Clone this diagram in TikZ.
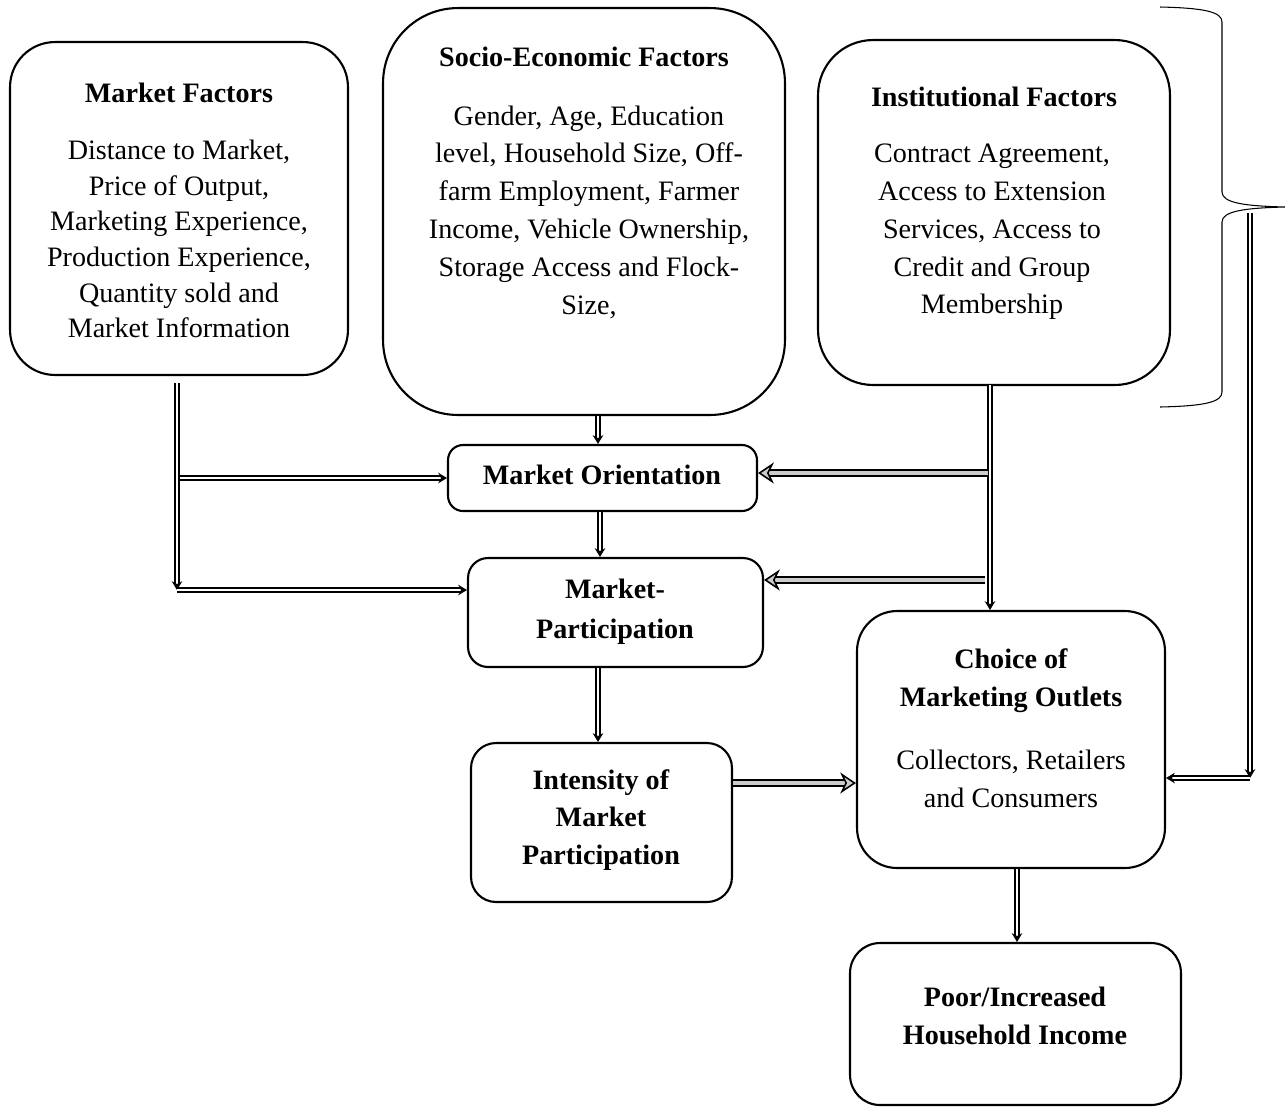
\documentclass[tikz,border=0pt]{standalone}
\usepackage{fontspec}
\setmainfont{Liberation Serif}
\usetikzlibrary{arrows.meta, positioning}

\begin{document}
\begin{tikzpicture}[x=0.02cm, y=-0.02cm,
    font=\fontsize{16}{21.5}\selectfont,
    box/.style={draw, line width=1.2pt},
    txt/.style={align=center, inner sep=0pt},
    link/.style={line width=0.7pt, double=white, double distance=1.6pt,
                 -{Stealth[length=5pt, width=6pt]}},
    glink/.style={line width=0.9pt, double=gray!40, double distance=2.6pt,
                  -{Stealth[length=9pt, width=12pt, fill=gray!40]}}]

    \useasboundingbox (0,0) rectangle (1285,1107);

    % Add the boxes
    \node[box, rounded corners=0.9cm, minimum width=6.76cm, minimum height=6.66cm] (mf)     at (179,208.5) {};
    \node[box, rounded corners=1.5cm, minimum width=8.04cm, minimum height=8.14cm] (se)     at (584,211.5) {};
    \node[box, rounded corners=1.1cm, minimum width=7.04cm, minimum height=6.9cm]  (inst)   at (994,212.5) {};
    \node[box, rounded corners=0.3cm, minimum width=6.18cm, minimum height=1.32cm] (mo)     at (602.5,478) {};
    \node[box, rounded corners=0.4cm, minimum width=5.9cm,  minimum height=2.18cm] (mp)     at (615.5,612.5) {};
    \node[box, rounded corners=0.5cm, minimum width=5.22cm, minimum height=3.18cm] (intens) at (601.5,822.5) {};
    \node[box, rounded corners=0.8cm, minimum width=6.16cm, minimum height=5.14cm] (choice) at (1011,739.5) {};
    \node[box, rounded corners=0.6cm, minimum width=6.62cm, minimum height=3.24cm] (income) at (1015.5,1024) {};

    % Add the texts
    \node[txt] (mfhead) at (179,93) {\textbf{Market Factors}};
    \node[txt, font=\fontsize{16}{20.3}\selectfont] (mfbody) at (179,239)
        {Distance to Market,\\Price of Output,\\Marketing Experience,\\Production Experience,\\Quantity sold and\\Market Information};
    \node[txt] (sehead) at (584,57) {\textbf{Socio-Economic Factors}};
    \node[txt] (sebody) at (589,212)
        {Gender, Age, Education\\level, Household Size, Off-\\farm Employment, Farmer\\Income, Vehicle Ownership,\\Storage Access and Flock-\\Size,};
    \node[txt] (insthead) at (994,97) {\textbf{Institutional Factors}};
    \node[txt] (instbody) at (992,232)
        {Contract Agreement,\\Access to Extension\\Services, Access to\\Credit and Group\\Membership};
    \node[txt] (motext)     at (602,475)  {\textbf{Market Orientation}};
    \node[txt, font=\fontsize{16}{22.7}\selectfont] (mptext) at (615,612) {\textbf{Market-}\\\textbf{Participation}};
    \node[txt] (intenstext) at (601,820)  {\textbf{Intensity of}\\\textbf{Market}\\\textbf{Participation}};
    \node[txt] (choicehead) at (1011,681) {\textbf{Choice of}\\\textbf{Marketing Outlets}};
    \node[txt] (choicebody) at (1011,779) {Collectors, Retailers\\and Consumers};
    \node[txt] (incometext) at (1015,1016) {\textbf{Poor/Increased}\\\textbf{Household Income}};

    % Brace round the three factor groups
    \draw[line width=0.6pt] (1160,7) .. controls (1205,8) and (1222,12) .. (1222,22)
        -- (1222,192) .. controls (1222,203) and (1245,206) .. (1285,207)
        .. controls (1245,208) and (1222,211) .. (1222,222)
        -- (1222,392) .. controls (1222,402) and (1205,406) .. (1160,407);

    % Connect the boxes with arrows
    \coordinate (mfa) at (177,383);
    \coordinate (mfb) at (177,590);
    \coordinate (mfc) at (180,478);
    \coordinate (insta) at (990,385);
    \coordinate (instb) at (988,473);
    \coordinate (instc) at (985,580);
    \coordinate (bra) at (1250,213);
    \coordinate (brb) at (1250,778);

    \draw[link] (mfa) -- (mfb);
    \draw[link] (mfc) -- (mo.west |- mfc);
    \draw[link] (mfb) -- (mp.west |- mfb);
    \draw[link] (se.south -| 598,0) -- (mo.north -| 598,0);
    \draw[link] (mo.south -| 600,0) -- (mp.north -| 600,0);
    \draw[link] (mp.south -| 598,0) -- (intens.north -| 598,0);
    \draw[link] (insta) -- (choice.north -| insta);
    \draw[glink] (instb) -- (mo.east |- instb);
    \draw[glink] (instc) -- (mp.east |- instc);
    \draw[glink] (intens.east |- 0,783) -- (choice.west |- 0,783);
    \draw[link] (choice.south -| 1017,0) -- (income.north -| 1017,0);
    \draw[link] (bra) -- (brb);
    \draw[link] (brb) -- (choice.east |- brb);
\end{tikzpicture}
\end{document}
